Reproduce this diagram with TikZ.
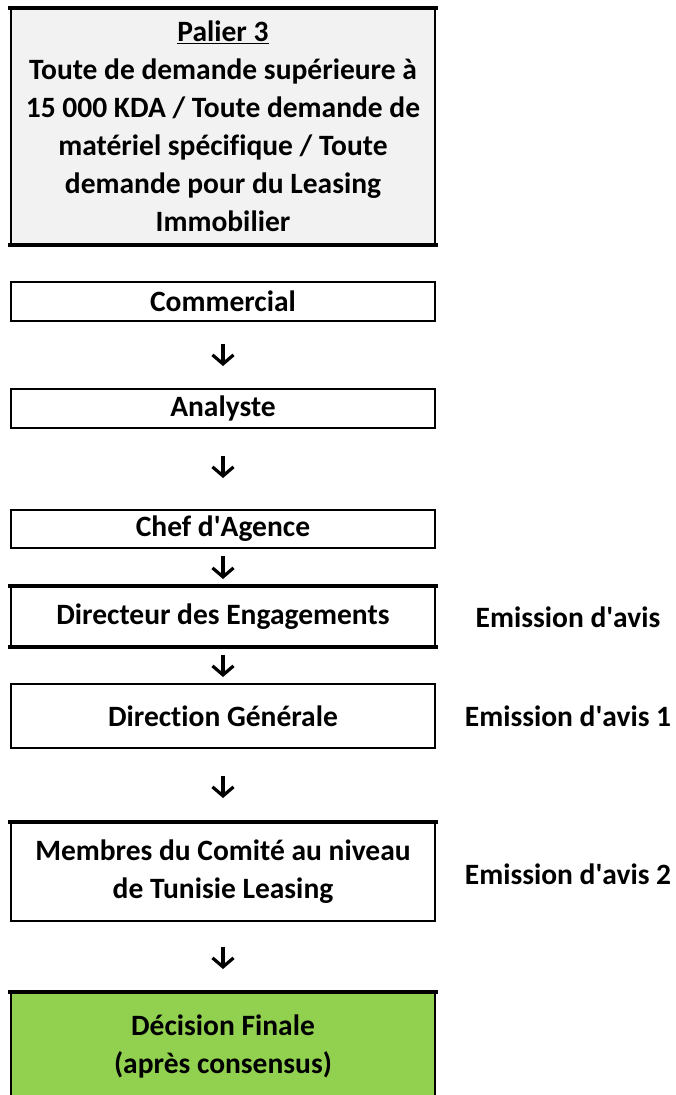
\documentclass[tikz,border=0pt]{standalone}
\usepackage{fontspec}
\setmainfont{Carlito}[Ligatures=CommonOff]
\usetikzlibrary{arrows.meta}
\definecolor{paliergray}{HTML}{F2F2F2}
\definecolor{decisiongreen}{HTML}{92D050}
\newcommand{\apos}{\textquotesingle}
\begin{document}
\begin{tikzpicture}[x=1pt,y=-1pt,
  every node/.style={font=\fontsize{29.5}{38}\selectfont\bfseries},
  stepbox/.style={draw=black,line width=1.8pt,fill=white,minimum width=424pt,
    inner sep=0pt,align=center,anchor=north},
  heavyedge/.style={line width=3.6pt,line cap=rect},
  flow/.style={line width=3.2pt,-{Straight Barb[length=9pt,width=21pt,line width=3.2pt]}},
  note/.style={anchor=center}]
  \useasboundingbox (0,0) rectangle (676,1095);

  % header box with the conditions of level 3
  \node[stepbox,fill=paliergray,minimum height=235pt] (palier) at (223,8)
    {\underline{Palier 3}\\Toute de demande supérieure à\\15 000 KDA / Toute demande de\\matériel spécifique / Toute\\demande pour du Leasing\\Immobilier};
  \draw[heavyedge] (palier.north west) -- (palier.north east);
  \draw[heavyedge] (palier.south west) -- (palier.south east);

  % chain of validation steps
  \node[stepbox,minimum height=39pt] (com) at (223,281) {Commercial};
  \node[stepbox,minimum height=39pt] (ana) at (223,388) {Analyste};
  \node[stepbox,minimum height=38pt] (chef) at (223,509) {Chef d\apos Agence};
  \node[stepbox,minimum height=59pt] (dir) at (223,586) {Directeur des Engagements};
  \draw[heavyedge] (dir.north west) -- (dir.north east);
  \draw[heavyedge] (dir.south west) -- (dir.south east);
  \node[stepbox,minimum height=64pt] (dg) at (223,683) {Direction Générale};
  \node[stepbox,minimum height=98pt] (comite) at (223,822)
    {Membres du Comité au niveau\\de Tunisie Leasing};
  \draw[heavyedge] (comite.north west) -- (comite.north east);
  \node[stepbox,fill=decisiongreen,minimum height=108pt] (final) at (223,992)
    {Décision Finale\\(après consensus)};
  \draw[heavyedge] (final.north west) -- (final.north east);

  % opinions given alongside the steps
  \node[note] (avis0) at (568,617) {Emission d\apos avis};
  \node[note] (avis1) at (568,716) {Emission d\apos avis 1};
  \node[note] (avis2) at (568,874) {Emission d\apos avis 2};

  % arrows between steps
  \draw[flow,shorten <=22pt,shorten >=22pt] (com.south) -- (ana.north);
  \draw[flow,shorten <=27pt,shorten >=31pt] (ana.south) -- (chef.north);
  \draw[flow,shorten <=7pt,shorten >=7pt] (chef.south) -- (dir.north);
  \draw[flow,shorten <=8pt,shorten >=6pt] (dir.south) -- (dg.north);
  \draw[flow,shorten <=27pt,shorten >=24pt] (dg.south) -- (comite.north);
  \draw[flow,shorten <=25pt,shorten >=23pt] (comite.south) -- (final.north);
\end{tikzpicture}
\end{document}
